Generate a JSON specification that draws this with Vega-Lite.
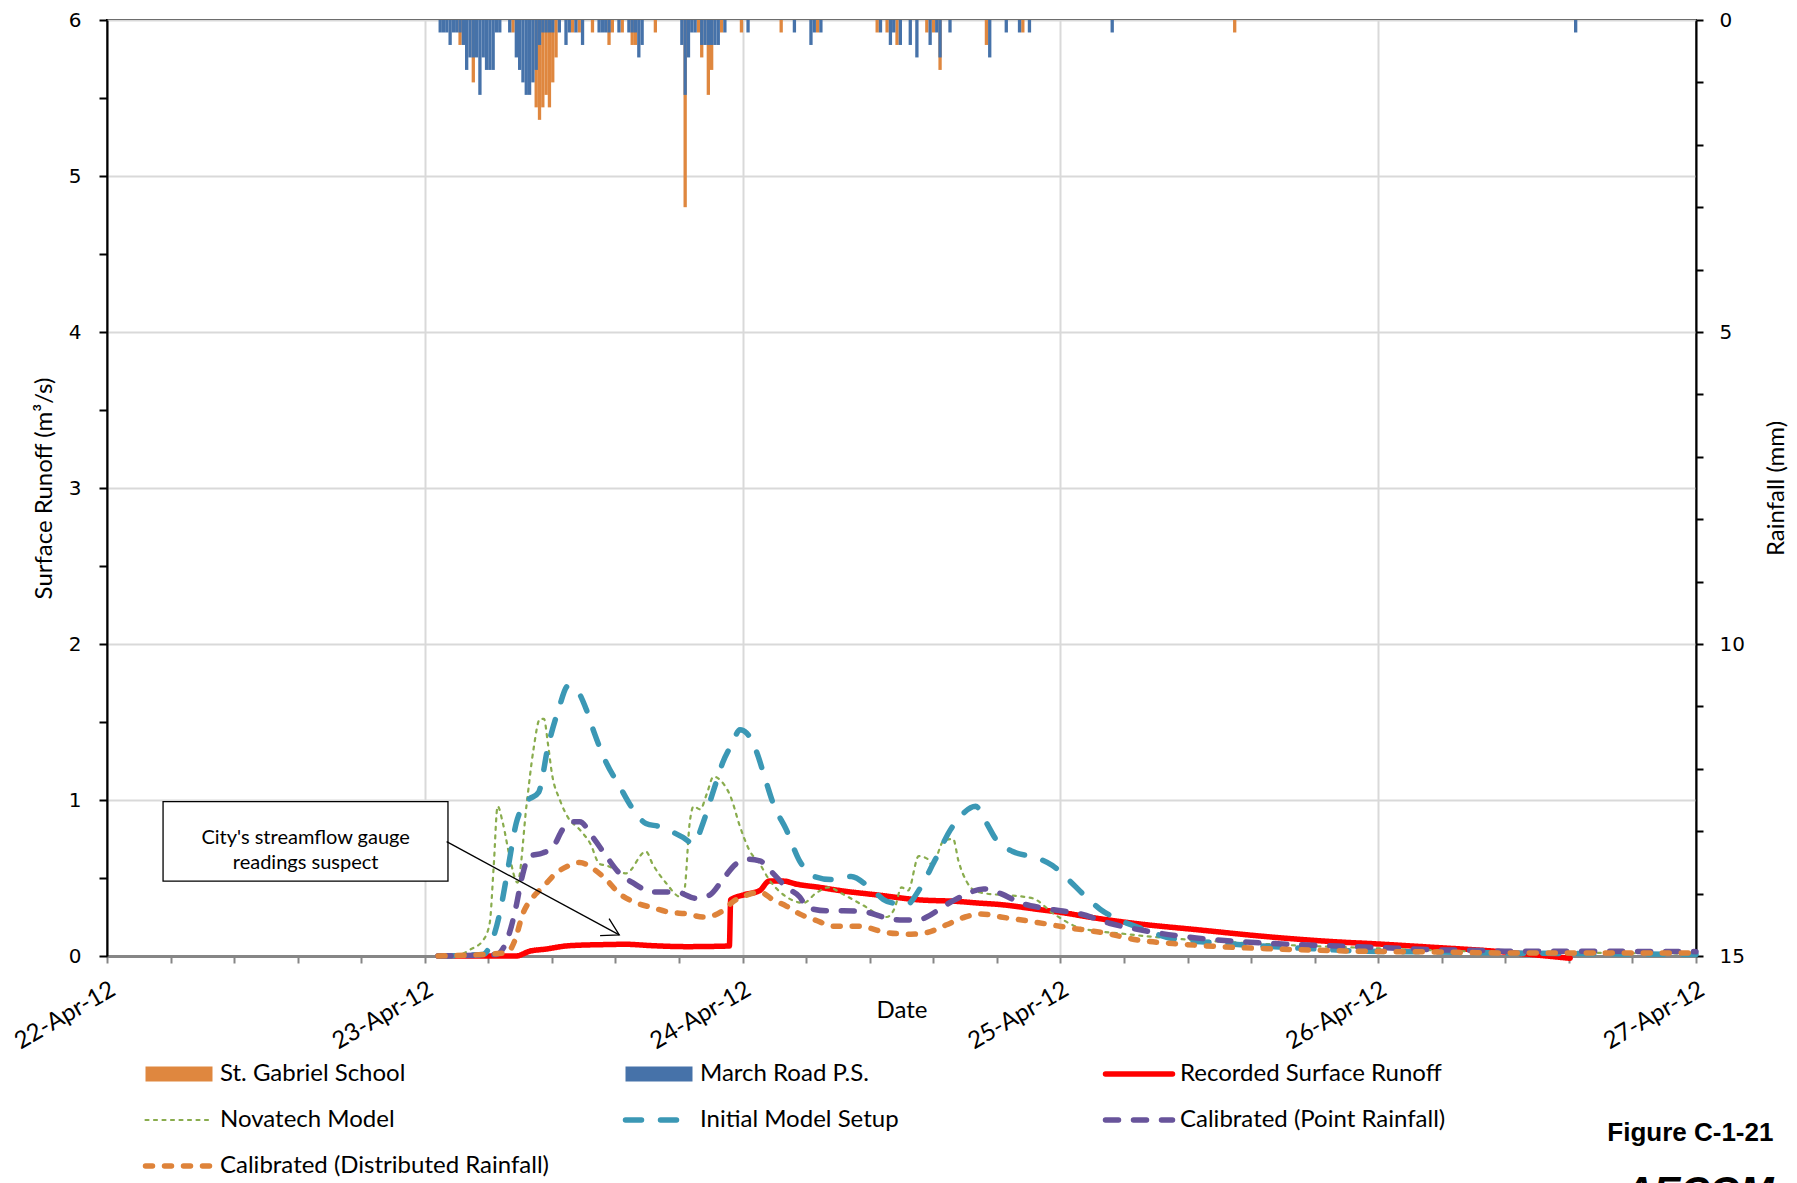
{
  "$schema": "https://vega.github.io/schema/vega-lite/v6.json",
  "width": 1589,
  "height": 936,
  "autosize": {"type": "none"},
  "padding": {"left": 107, "top": 20, "right": 101, "bottom": 227},
  "background": "white",
  "title": {
    "text": "Figure C-1-21",
    "subtitle": "AECOM",
    "orient": "bottom",
    "anchor": "end",
    "frame": "bounds",
    "dy": -63,
    "dx": -15,
    "font": "Liberation Sans",
    "fontSize": 26,
    "fontWeight": "bold",
    "color": "black",
    "subtitleFont": "Liberation Sans",
    "subtitleFontSize": 40,
    "subtitleFontStyle": "italic",
    "subtitleFontWeight": "bold",
    "subtitleColor": "black",
    "subtitlePadding": 27
  },
  "config": {
    "view": {"stroke": "black", "strokeWidth": 2},
    "font": "Lato",
    "legend": {
      "title": null,
      "orient": "none",
      "legendX": 31,
      "legendY": 1041,
      "direction": "horizontal",
      "columns": 3,
      "symbolType": "stroke",
      "symbolSize": 4489,
      "clipHeight": 26,
      "labelFont": "Lato",
      "labelFontSize": 24,
      "labelColor": "black",
      "labelOffset": 0,
      "labelLimit": 600,
      "gridAlign": "all",
      "columnPadding": 69,
      "rowPadding": 20
    }
  },
  "datasets": {
    "rain": [
      {"station": "St. Gabriel School", "t": "2012-04-23T02:30Z", "mm": 0.4},
      {"station": "St. Gabriel School", "t": "2012-04-23T03:30Z", "mm": 1.0},
      {"station": "St. Gabriel School", "t": "2012-04-23T06:30Z", "mm": 0.2},
      {"station": "St. Gabriel School", "t": "2012-04-23T08:15Z", "mm": 1.4},
      {"station": "St. Gabriel School", "t": "2012-04-23T08:30Z", "mm": 1.6},
      {"station": "St. Gabriel School", "t": "2012-04-23T08:45Z", "mm": 1.4},
      {"station": "St. Gabriel School", "t": "2012-04-23T09:00Z", "mm": 1.2},
      {"station": "St. Gabriel School", "t": "2012-04-23T09:15Z", "mm": 1.4},
      {"station": "St. Gabriel School", "t": "2012-04-23T09:30Z", "mm": 1.0},
      {"station": "St. Gabriel School", "t": "2012-04-23T09:45Z", "mm": 0.6},
      {"station": "St. Gabriel School", "t": "2012-04-23T11:00Z", "mm": 0.2},
      {"station": "St. Gabriel School", "t": "2012-04-23T11:30Z", "mm": 0.2},
      {"station": "St. Gabriel School", "t": "2012-04-23T12:30Z", "mm": 0.2},
      {"station": "St. Gabriel School", "t": "2012-04-23T13:45Z", "mm": 0.4},
      {"station": "St. Gabriel School", "t": "2012-04-23T14:00Z", "mm": 0.2},
      {"station": "St. Gabriel School", "t": "2012-04-23T14:45Z", "mm": 0.2},
      {"station": "St. Gabriel School", "t": "2012-04-23T15:30Z", "mm": 0.4},
      {"station": "St. Gabriel School", "t": "2012-04-23T15:45Z", "mm": 0.4},
      {"station": "St. Gabriel School", "t": "2012-04-23T17:15Z", "mm": 0.2},
      {"station": "St. Gabriel School", "t": "2012-04-23T19:30Z", "mm": 3.0},
      {"station": "St. Gabriel School", "t": "2012-04-23T20:30Z", "mm": 0.2},
      {"station": "St. Gabriel School", "t": "2012-04-23T20:45Z", "mm": 0.6},
      {"station": "St. Gabriel School", "t": "2012-04-23T21:15Z", "mm": 1.2},
      {"station": "St. Gabriel School", "t": "2012-04-23T21:30Z", "mm": 0.8},
      {"station": "St. Gabriel School", "t": "2012-04-23T22:15Z", "mm": 0.2},
      {"station": "St. Gabriel School", "t": "2012-04-23T23:45Z", "mm": 0.2},
      {"station": "St. Gabriel School", "t": "2012-04-24T02:45Z", "mm": 0.2},
      {"station": "St. Gabriel School", "t": "2012-04-24T05:30Z", "mm": 0.2},
      {"station": "St. Gabriel School", "t": "2012-04-24T10:00Z", "mm": 0.2},
      {"station": "St. Gabriel School", "t": "2012-04-24T10:45Z", "mm": 0.2},
      {"station": "St. Gabriel School", "t": "2012-04-24T11:30Z", "mm": 0.4},
      {"station": "St. Gabriel School", "t": "2012-04-24T13:45Z", "mm": 0.2},
      {"station": "St. Gabriel School", "t": "2012-04-24T14:15Z", "mm": 0.2},
      {"station": "St. Gabriel School", "t": "2012-04-24T14:45Z", "mm": 0.8},
      {"station": "St. Gabriel School", "t": "2012-04-24T18:15Z", "mm": 0.4},
      {"station": "St. Gabriel School", "t": "2012-04-24T21:00Z", "mm": 0.2},
      {"station": "St. Gabriel School", "t": "2012-04-25T13:00Z", "mm": 0.2},
      {"station": "March Road P.S.", "t": "2012-04-23T01:00Z", "mm": 0.2},
      {"station": "March Road P.S.", "t": "2012-04-23T01:15Z", "mm": 0.2},
      {"station": "March Road P.S.", "t": "2012-04-23T01:30Z", "mm": 0.2},
      {"station": "March Road P.S.", "t": "2012-04-23T01:45Z", "mm": 0.4},
      {"station": "March Road P.S.", "t": "2012-04-23T02:00Z", "mm": 0.2},
      {"station": "March Road P.S.", "t": "2012-04-23T02:15Z", "mm": 0.2},
      {"station": "March Road P.S.", "t": "2012-04-23T02:30Z", "mm": 0.2},
      {"station": "March Road P.S.", "t": "2012-04-23T02:45Z", "mm": 0.4},
      {"station": "March Road P.S.", "t": "2012-04-23T03:00Z", "mm": 0.8},
      {"station": "March Road P.S.", "t": "2012-04-23T03:15Z", "mm": 0.6},
      {"station": "March Road P.S.", "t": "2012-04-23T03:30Z", "mm": 0.6},
      {"station": "March Road P.S.", "t": "2012-04-23T03:45Z", "mm": 0.6},
      {"station": "March Road P.S.", "t": "2012-04-23T04:00Z", "mm": 1.2},
      {"station": "March Road P.S.", "t": "2012-04-23T04:15Z", "mm": 0.6},
      {"station": "March Road P.S.", "t": "2012-04-23T04:30Z", "mm": 0.8},
      {"station": "March Road P.S.", "t": "2012-04-23T04:45Z", "mm": 0.8},
      {"station": "March Road P.S.", "t": "2012-04-23T05:00Z", "mm": 0.8},
      {"station": "March Road P.S.", "t": "2012-04-23T05:15Z", "mm": 0.2},
      {"station": "March Road P.S.", "t": "2012-04-23T05:30Z", "mm": 0.2},
      {"station": "March Road P.S.", "t": "2012-04-23T06:15Z", "mm": 0.2},
      {"station": "March Road P.S.", "t": "2012-04-23T06:45Z", "mm": 0.6},
      {"station": "March Road P.S.", "t": "2012-04-23T07:00Z", "mm": 0.8},
      {"station": "March Road P.S.", "t": "2012-04-23T07:15Z", "mm": 1.0},
      {"station": "March Road P.S.", "t": "2012-04-23T07:30Z", "mm": 1.2},
      {"station": "March Road P.S.", "t": "2012-04-23T07:45Z", "mm": 1.2},
      {"station": "March Road P.S.", "t": "2012-04-23T08:00Z", "mm": 1.0},
      {"station": "March Road P.S.", "t": "2012-04-23T08:15Z", "mm": 0.8},
      {"station": "March Road P.S.", "t": "2012-04-23T08:30Z", "mm": 0.4},
      {"station": "March Road P.S.", "t": "2012-04-23T08:45Z", "mm": 0.2},
      {"station": "March Road P.S.", "t": "2012-04-23T09:00Z", "mm": 0.2},
      {"station": "March Road P.S.", "t": "2012-04-23T09:15Z", "mm": 0.2},
      {"station": "March Road P.S.", "t": "2012-04-23T09:30Z", "mm": 0.2},
      {"station": "March Road P.S.", "t": "2012-04-23T10:00Z", "mm": 0.2},
      {"station": "March Road P.S.", "t": "2012-04-23T10:30Z", "mm": 0.4},
      {"station": "March Road P.S.", "t": "2012-04-23T10:45Z", "mm": 0.2},
      {"station": "March Road P.S.", "t": "2012-04-23T11:15Z", "mm": 0.2},
      {"station": "March Road P.S.", "t": "2012-04-23T11:45Z", "mm": 0.4},
      {"station": "March Road P.S.", "t": "2012-04-23T13:00Z", "mm": 0.2},
      {"station": "March Road P.S.", "t": "2012-04-23T13:15Z", "mm": 0.2},
      {"station": "March Road P.S.", "t": "2012-04-23T13:30Z", "mm": 0.2},
      {"station": "March Road P.S.", "t": "2012-04-23T13:45Z", "mm": 0.2},
      {"station": "March Road P.S.", "t": "2012-04-23T14:30Z", "mm": 0.2},
      {"station": "March Road P.S.", "t": "2012-04-23T15:15Z", "mm": 0.2},
      {"station": "March Road P.S.", "t": "2012-04-23T15:30Z", "mm": 0.2},
      {"station": "March Road P.S.", "t": "2012-04-23T15:45Z", "mm": 0.2},
      {"station": "March Road P.S.", "t": "2012-04-23T16:00Z", "mm": 0.6},
      {"station": "March Road P.S.", "t": "2012-04-23T16:15Z", "mm": 0.4},
      {"station": "March Road P.S.", "t": "2012-04-23T19:15Z", "mm": 0.4},
      {"station": "March Road P.S.", "t": "2012-04-23T19:30Z", "mm": 1.2},
      {"station": "March Road P.S.", "t": "2012-04-23T19:45Z", "mm": 0.6},
      {"station": "March Road P.S.", "t": "2012-04-23T20:00Z", "mm": 0.2},
      {"station": "March Road P.S.", "t": "2012-04-23T20:15Z", "mm": 0.2},
      {"station": "March Road P.S.", "t": "2012-04-23T20:45Z", "mm": 0.4},
      {"station": "March Road P.S.", "t": "2012-04-23T21:00Z", "mm": 0.4},
      {"station": "March Road P.S.", "t": "2012-04-23T21:15Z", "mm": 0.4},
      {"station": "March Road P.S.", "t": "2012-04-23T21:30Z", "mm": 0.4},
      {"station": "March Road P.S.", "t": "2012-04-23T21:45Z", "mm": 0.4},
      {"station": "March Road P.S.", "t": "2012-04-23T22:00Z", "mm": 0.4},
      {"station": "March Road P.S.", "t": "2012-04-23T22:30Z", "mm": 0.2},
      {"station": "March Road P.S.", "t": "2012-04-24T00:15Z", "mm": 0.2},
      {"station": "March Road P.S.", "t": "2012-04-24T03:45Z", "mm": 0.2},
      {"station": "March Road P.S.", "t": "2012-04-24T05:00Z", "mm": 0.4},
      {"station": "March Road P.S.", "t": "2012-04-24T05:15Z", "mm": 0.2},
      {"station": "March Road P.S.", "t": "2012-04-24T05:45Z", "mm": 0.2},
      {"station": "March Road P.S.", "t": "2012-04-24T10:15Z", "mm": 0.2},
      {"station": "March Road P.S.", "t": "2012-04-24T11:00Z", "mm": 0.4},
      {"station": "March Road P.S.", "t": "2012-04-24T11:15Z", "mm": 0.2},
      {"station": "March Road P.S.", "t": "2012-04-24T11:45Z", "mm": 0.4},
      {"station": "March Road P.S.", "t": "2012-04-24T12:30Z", "mm": 0.4},
      {"station": "March Road P.S.", "t": "2012-04-24T13:00Z", "mm": 0.6},
      {"station": "March Road P.S.", "t": "2012-04-24T14:00Z", "mm": 0.4},
      {"station": "March Road P.S.", "t": "2012-04-24T14:30Z", "mm": 0.2},
      {"station": "March Road P.S.", "t": "2012-04-24T14:45Z", "mm": 0.6},
      {"station": "March Road P.S.", "t": "2012-04-24T15:30Z", "mm": 0.2},
      {"station": "March Road P.S.", "t": "2012-04-24T18:30Z", "mm": 0.6},
      {"station": "March Road P.S.", "t": "2012-04-24T19:45Z", "mm": 0.2},
      {"station": "March Road P.S.", "t": "2012-04-24T20:45Z", "mm": 0.2},
      {"station": "March Road P.S.", "t": "2012-04-24T21:30Z", "mm": 0.2},
      {"station": "March Road P.S.", "t": "2012-04-25T03:45Z", "mm": 0.2},
      {"station": "March Road P.S.", "t": "2012-04-26T14:45Z", "mm": 0.2}
    ],
    "flow": [
      {"s": "Recorded Surface Runoff", "t": "2012-04-23T01:00Z", "q": 0},
      {"s": "Recorded Surface Runoff", "t": "2012-04-23T06:54Z", "q": 0},
      {"s": "Recorded Surface Runoff", "t": "2012-04-23T07:54Z", "q": 0.03},
      {"s": "Recorded Surface Runoff", "t": "2012-04-23T09:12Z", "q": 0.045},
      {"s": "Recorded Surface Runoff", "t": "2012-04-23T10:54Z", "q": 0.066},
      {"s": "Recorded Surface Runoff", "t": "2012-04-23T13:30Z", "q": 0.073},
      {"s": "Recorded Surface Runoff", "t": "2012-04-23T15:12Z", "q": 0.075},
      {"s": "Recorded Surface Runoff", "t": "2012-04-23T17:12Z", "q": 0.066},
      {"s": "Recorded Surface Runoff", "t": "2012-04-23T19:48Z", "q": 0.06},
      {"s": "Recorded Surface Runoff", "t": "2012-04-23T23:00Z", "q": 0.064},
      {"s": "Recorded Surface Runoff", "t": "2012-04-23T23:06Z", "q": 0.36},
      {"s": "Recorded Surface Runoff", "t": "2012-04-24T00:00Z", "q": 0.39},
      {"s": "Recorded Surface Runoff", "t": "2012-04-24T01:18Z", "q": 0.42},
      {"s": "Recorded Surface Runoff", "t": "2012-04-24T02:00Z", "q": 0.48},
      {"s": "Recorded Surface Runoff", "t": "2012-04-24T03:06Z", "q": 0.48},
      {"s": "Recorded Surface Runoff", "t": "2012-04-24T04:06Z", "q": 0.46},
      {"s": "Recorded Surface Runoff", "t": "2012-04-24T05:48Z", "q": 0.44},
      {"s": "Recorded Surface Runoff", "t": "2012-04-24T07:18Z", "q": 0.42},
      {"s": "Recorded Surface Runoff", "t": "2012-04-24T10:18Z", "q": 0.39},
      {"s": "Recorded Surface Runoff", "t": "2012-04-24T13:18Z", "q": 0.36},
      {"s": "Recorded Surface Runoff", "t": "2012-04-24T16:12Z", "q": 0.35},
      {"s": "Recorded Surface Runoff", "t": "2012-04-24T17:42Z", "q": 0.34},
      {"s": "Recorded Surface Runoff", "t": "2012-04-24T19:24Z", "q": 0.33},
      {"s": "Recorded Surface Runoff", "t": "2012-04-24T22:12Z", "q": 0.30},
      {"s": "Recorded Surface Runoff", "t": "2012-04-25T00:00Z", "q": 0.28},
      {"s": "Recorded Surface Runoff", "t": "2012-04-25T02:30Z", "q": 0.245},
      {"s": "Recorded Surface Runoff", "t": "2012-04-25T05:30Z", "q": 0.21},
      {"s": "Recorded Surface Runoff", "t": "2012-04-25T10:30Z", "q": 0.167},
      {"s": "Recorded Surface Runoff", "t": "2012-04-25T15:36Z", "q": 0.124},
      {"s": "Recorded Surface Runoff", "t": "2012-04-25T20:36Z", "q": 0.092},
      {"s": "Recorded Surface Runoff", "t": "2012-04-26T00:00Z", "q": 0.077},
      {"s": "Recorded Surface Runoff", "t": "2012-04-26T04:06Z", "q": 0.056},
      {"s": "Recorded Surface Runoff", "t": "2012-04-26T09:12Z", "q": 0.028},
      {"s": "Recorded Surface Runoff", "t": "2012-04-26T12:00Z", "q": 0.006},
      {"s": "Recorded Surface Runoff", "t": "2012-04-26T14:30Z", "q": -0.015},
      {"s": "Novatech Model", "t": "2012-04-23T01:00Z", "q": 0},
      {"s": "Novatech Model", "t": "2012-04-23T02:30Z", "q": 0.005},
      {"s": "Novatech Model", "t": "2012-04-23T03:24Z", "q": 0.04},
      {"s": "Novatech Model", "t": "2012-04-23T04:24Z", "q": 0.10},
      {"s": "Novatech Model", "t": "2012-04-23T04:54Z", "q": 0.21},
      {"s": "Novatech Model", "t": "2012-04-23T05:12Z", "q": 0.57},
      {"s": "Novatech Model", "t": "2012-04-23T05:30Z", "q": 0.96},
      {"s": "Novatech Model", "t": "2012-04-23T05:54Z", "q": 0.85},
      {"s": "Novatech Model", "t": "2012-04-23T06:24Z", "q": 0.64},
      {"s": "Novatech Model", "t": "2012-04-23T07:00Z", "q": 0.47},
      {"s": "Novatech Model", "t": "2012-04-23T07:42Z", "q": 0.98},
      {"s": "Novatech Model", "t": "2012-04-23T08:12Z", "q": 1.32},
      {"s": "Novatech Model", "t": "2012-04-23T08:42Z", "q": 1.52},
      {"s": "Novatech Model", "t": "2012-04-23T09:00Z", "q": 1.52},
      {"s": "Novatech Model", "t": "2012-04-23T09:18Z", "q": 1.36},
      {"s": "Novatech Model", "t": "2012-04-23T09:36Z", "q": 1.17},
      {"s": "Novatech Model", "t": "2012-04-23T10:12Z", "q": 1.0},
      {"s": "Novatech Model", "t": "2012-04-23T10:48Z", "q": 0.89},
      {"s": "Novatech Model", "t": "2012-04-23T11:42Z", "q": 0.81},
      {"s": "Novatech Model", "t": "2012-04-23T12:30Z", "q": 0.72},
      {"s": "Novatech Model", "t": "2012-04-23T13:12Z", "q": 0.59},
      {"s": "Novatech Model", "t": "2012-04-23T13:42Z", "q": 0.58},
      {"s": "Novatech Model", "t": "2012-04-23T15:12Z", "q": 0.53},
      {"s": "Novatech Model", "t": "2012-04-23T16:42Z", "q": 0.67},
      {"s": "Novatech Model", "t": "2012-04-23T17:12Z", "q": 0.59},
      {"s": "Novatech Model", "t": "2012-04-23T18:12Z", "q": 0.47},
      {"s": "Novatech Model", "t": "2012-04-23T19:18Z", "q": 0.38},
      {"s": "Novatech Model", "t": "2012-04-23T19:36Z", "q": 0.42},
      {"s": "Novatech Model", "t": "2012-04-23T20:00Z", "q": 0.85},
      {"s": "Novatech Model", "t": "2012-04-23T20:18Z", "q": 0.96},
      {"s": "Novatech Model", "t": "2012-04-23T20:48Z", "q": 0.94},
      {"s": "Novatech Model", "t": "2012-04-23T21:18Z", "q": 1.04},
      {"s": "Novatech Model", "t": "2012-04-23T21:48Z", "q": 1.15},
      {"s": "Novatech Model", "t": "2012-04-23T22:24Z", "q": 1.12},
      {"s": "Novatech Model", "t": "2012-04-23T23:06Z", "q": 1.02},
      {"s": "Novatech Model", "t": "2012-04-23T23:48Z", "q": 0.83},
      {"s": "Novatech Model", "t": "2012-04-24T00:30Z", "q": 0.68},
      {"s": "Novatech Model", "t": "2012-04-24T01:18Z", "q": 0.59},
      {"s": "Novatech Model", "t": "2012-04-24T02:00Z", "q": 0.49},
      {"s": "Novatech Model", "t": "2012-04-24T03:18Z", "q": 0.38},
      {"s": "Novatech Model", "t": "2012-04-24T04:36Z", "q": 0.34},
      {"s": "Novatech Model", "t": "2012-04-24T05:30Z", "q": 0.40},
      {"s": "Novatech Model", "t": "2012-04-24T06:30Z", "q": 0.44},
      {"s": "Novatech Model", "t": "2012-04-24T07:30Z", "q": 0.40},
      {"s": "Novatech Model", "t": "2012-04-24T09:00Z", "q": 0.33},
      {"s": "Novatech Model", "t": "2012-04-24T10:54Z", "q": 0.25},
      {"s": "Novatech Model", "t": "2012-04-24T11:30Z", "q": 0.31},
      {"s": "Novatech Model", "t": "2012-04-24T12:00Z", "q": 0.44},
      {"s": "Novatech Model", "t": "2012-04-24T12:30Z", "q": 0.42},
      {"s": "Novatech Model", "t": "2012-04-24T13:18Z", "q": 0.64},
      {"s": "Novatech Model", "t": "2012-04-24T14:00Z", "q": 0.62},
      {"s": "Novatech Model", "t": "2012-04-24T14:18Z", "q": 0.58},
      {"s": "Novatech Model", "t": "2012-04-24T15:12Z", "q": 0.74},
      {"s": "Novatech Model", "t": "2012-04-24T15:54Z", "q": 0.75},
      {"s": "Novatech Model", "t": "2012-04-24T16:18Z", "q": 0.61},
      {"s": "Novatech Model", "t": "2012-04-24T16:54Z", "q": 0.48},
      {"s": "Novatech Model", "t": "2012-04-24T17:30Z", "q": 0.42},
      {"s": "Novatech Model", "t": "2012-04-24T18:24Z", "q": 0.40},
      {"s": "Novatech Model", "t": "2012-04-24T19:54Z", "q": 0.39},
      {"s": "Novatech Model", "t": "2012-04-24T21:54Z", "q": 0.37},
      {"s": "Novatech Model", "t": "2012-04-24T23:30Z", "q": 0.27},
      {"s": "Novatech Model", "t": "2012-04-25T01:30Z", "q": 0.18},
      {"s": "Novatech Model", "t": "2012-04-25T05:00Z", "q": 0.14},
      {"s": "Novatech Model", "t": "2012-04-25T08:48Z", "q": 0.11},
      {"s": "Novatech Model", "t": "2012-04-25T12:36Z", "q": 0.09},
      {"s": "Novatech Model", "t": "2012-04-25T17:42Z", "q": 0.068},
      {"s": "Novatech Model", "t": "2012-04-25T22:42Z", "q": 0.053},
      {"s": "Novatech Model", "t": "2012-04-26T03:42Z", "q": 0.038},
      {"s": "Novatech Model", "t": "2012-04-26T08:42Z", "q": 0.026},
      {"s": "Novatech Model", "t": "2012-04-26T16:00Z", "q": 0.02},
      {"s": "Novatech Model", "t": "2012-04-27T00:00Z", "q": 0.015},
      {"s": "Initial Model Setup", "t": "2012-04-23T01:00Z", "q": 0},
      {"s": "Initial Model Setup", "t": "2012-04-23T04:24Z", "q": 0.01},
      {"s": "Initial Model Setup", "t": "2012-04-23T05:00Z", "q": 0.08},
      {"s": "Initial Model Setup", "t": "2012-04-23T05:42Z", "q": 0.29},
      {"s": "Initial Model Setup", "t": "2012-04-23T06:18Z", "q": 0.57},
      {"s": "Initial Model Setup", "t": "2012-04-23T06:54Z", "q": 0.85},
      {"s": "Initial Model Setup", "t": "2012-04-23T07:42Z", "q": 0.99},
      {"s": "Initial Model Setup", "t": "2012-04-23T08:36Z", "q": 1.05},
      {"s": "Initial Model Setup", "t": "2012-04-23T09:18Z", "q": 1.34},
      {"s": "Initial Model Setup", "t": "2012-04-23T10:06Z", "q": 1.58},
      {"s": "Initial Model Setup", "t": "2012-04-23T10:48Z", "q": 1.73},
      {"s": "Initial Model Setup", "t": "2012-04-23T11:18Z", "q": 1.72},
      {"s": "Initial Model Setup", "t": "2012-04-23T12:12Z", "q": 1.58},
      {"s": "Initial Model Setup", "t": "2012-04-23T12:48Z", "q": 1.43},
      {"s": "Initial Model Setup", "t": "2012-04-23T13:42Z", "q": 1.24},
      {"s": "Initial Model Setup", "t": "2012-04-23T14:42Z", "q": 1.09},
      {"s": "Initial Model Setup", "t": "2012-04-23T15:30Z", "q": 0.97},
      {"s": "Initial Model Setup", "t": "2012-04-23T16:42Z", "q": 0.85},
      {"s": "Initial Model Setup", "t": "2012-04-23T17:42Z", "q": 0.83},
      {"s": "Initial Model Setup", "t": "2012-04-23T19:30Z", "q": 0.76},
      {"s": "Initial Model Setup", "t": "2012-04-23T20:18Z", "q": 0.72},
      {"s": "Initial Model Setup", "t": "2012-04-23T21:00Z", "q": 0.85},
      {"s": "Initial Model Setup", "t": "2012-04-23T21:48Z", "q": 1.06},
      {"s": "Initial Model Setup", "t": "2012-04-23T22:30Z", "q": 1.24},
      {"s": "Initial Model Setup", "t": "2012-04-23T23:12Z", "q": 1.36},
      {"s": "Initial Model Setup", "t": "2012-04-23T23:48Z", "q": 1.45},
      {"s": "Initial Model Setup", "t": "2012-04-24T00:18Z", "q": 1.43},
      {"s": "Initial Model Setup", "t": "2012-04-24T01:00Z", "q": 1.32},
      {"s": "Initial Model Setup", "t": "2012-04-24T01:48Z", "q": 1.11},
      {"s": "Initial Model Setup", "t": "2012-04-24T02:18Z", "q": 0.98},
      {"s": "Initial Model Setup", "t": "2012-04-24T03:18Z", "q": 0.81},
      {"s": "Initial Model Setup", "t": "2012-04-24T04:18Z", "q": 0.61},
      {"s": "Initial Model Setup", "t": "2012-04-24T05:24Z", "q": 0.51},
      {"s": "Initial Model Setup", "t": "2012-04-24T06:42Z", "q": 0.49},
      {"s": "Initial Model Setup", "t": "2012-04-24T08:12Z", "q": 0.51},
      {"s": "Initial Model Setup", "t": "2012-04-24T09:42Z", "q": 0.43},
      {"s": "Initial Model Setup", "t": "2012-04-24T10:54Z", "q": 0.35},
      {"s": "Initial Model Setup", "t": "2012-04-24T12:24Z", "q": 0.33},
      {"s": "Initial Model Setup", "t": "2012-04-24T13:18Z", "q": 0.42},
      {"s": "Initial Model Setup", "t": "2012-04-24T14:30Z", "q": 0.61},
      {"s": "Initial Model Setup", "t": "2012-04-24T15:42Z", "q": 0.81},
      {"s": "Initial Model Setup", "t": "2012-04-24T16:30Z", "q": 0.90},
      {"s": "Initial Model Setup", "t": "2012-04-24T17:36Z", "q": 0.96},
      {"s": "Initial Model Setup", "t": "2012-04-24T18:18Z", "q": 0.87},
      {"s": "Initial Model Setup", "t": "2012-04-24T19:12Z", "q": 0.74},
      {"s": "Initial Model Setup", "t": "2012-04-24T20:24Z", "q": 0.67},
      {"s": "Initial Model Setup", "t": "2012-04-24T22:12Z", "q": 0.63},
      {"s": "Initial Model Setup", "t": "2012-04-24T23:24Z", "q": 0.58},
      {"s": "Initial Model Setup", "t": "2012-04-25T00:36Z", "q": 0.49},
      {"s": "Initial Model Setup", "t": "2012-04-25T01:48Z", "q": 0.39},
      {"s": "Initial Model Setup", "t": "2012-04-25T03:00Z", "q": 0.30},
      {"s": "Initial Model Setup", "t": "2012-04-25T04:12Z", "q": 0.24},
      {"s": "Initial Model Setup", "t": "2012-04-25T06:00Z", "q": 0.18},
      {"s": "Initial Model Setup", "t": "2012-04-25T08:30Z", "q": 0.11},
      {"s": "Initial Model Setup", "t": "2012-04-25T11:48Z", "q": 0.084},
      {"s": "Initial Model Setup", "t": "2012-04-25T15:36Z", "q": 0.062},
      {"s": "Initial Model Setup", "t": "2012-04-25T19:24Z", "q": 0.045},
      {"s": "Initial Model Setup", "t": "2012-04-25T23:06Z", "q": 0.03},
      {"s": "Initial Model Setup", "t": "2012-04-26T04:06Z", "q": 0.026},
      {"s": "Initial Model Setup", "t": "2012-04-26T09:12Z", "q": 0.02},
      {"s": "Initial Model Setup", "t": "2012-04-26T16:00Z", "q": 0.015},
      {"s": "Initial Model Setup", "t": "2012-04-27T00:00Z", "q": 0.01},
      {"s": "Calibrated (Point Rainfall)", "t": "2012-04-23T01:00Z", "q": 0},
      {"s": "Calibrated (Point Rainfall)", "t": "2012-04-23T05:24Z", "q": 0.01},
      {"s": "Calibrated (Point Rainfall)", "t": "2012-04-23T06:24Z", "q": 0.15},
      {"s": "Calibrated (Point Rainfall)", "t": "2012-04-23T06:54Z", "q": 0.32},
      {"s": "Calibrated (Point Rainfall)", "t": "2012-04-23T07:18Z", "q": 0.49},
      {"s": "Calibrated (Point Rainfall)", "t": "2012-04-23T07:54Z", "q": 0.64},
      {"s": "Calibrated (Point Rainfall)", "t": "2012-04-23T08:54Z", "q": 0.66},
      {"s": "Calibrated (Point Rainfall)", "t": "2012-04-23T09:42Z", "q": 0.70},
      {"s": "Calibrated (Point Rainfall)", "t": "2012-04-23T10:24Z", "q": 0.81},
      {"s": "Calibrated (Point Rainfall)", "t": "2012-04-23T11:12Z", "q": 0.86},
      {"s": "Calibrated (Point Rainfall)", "t": "2012-04-23T11:42Z", "q": 0.86},
      {"s": "Calibrated (Point Rainfall)", "t": "2012-04-23T12:42Z", "q": 0.76},
      {"s": "Calibrated (Point Rainfall)", "t": "2012-04-23T13:42Z", "q": 0.64},
      {"s": "Calibrated (Point Rainfall)", "t": "2012-04-23T14:42Z", "q": 0.53},
      {"s": "Calibrated (Point Rainfall)", "t": "2012-04-23T15:42Z", "q": 0.47},
      {"s": "Calibrated (Point Rainfall)", "t": "2012-04-23T17:12Z", "q": 0.41},
      {"s": "Calibrated (Point Rainfall)", "t": "2012-04-23T19:00Z", "q": 0.41},
      {"s": "Calibrated (Point Rainfall)", "t": "2012-04-23T20:30Z", "q": 0.37},
      {"s": "Calibrated (Point Rainfall)", "t": "2012-04-23T21:30Z", "q": 0.39},
      {"s": "Calibrated (Point Rainfall)", "t": "2012-04-23T22:30Z", "q": 0.49},
      {"s": "Calibrated (Point Rainfall)", "t": "2012-04-23T23:30Z", "q": 0.59},
      {"s": "Calibrated (Point Rainfall)", "t": "2012-04-24T00:30Z", "q": 0.62},
      {"s": "Calibrated (Point Rainfall)", "t": "2012-04-24T01:18Z", "q": 0.61},
      {"s": "Calibrated (Point Rainfall)", "t": "2012-04-24T02:18Z", "q": 0.53},
      {"s": "Calibrated (Point Rainfall)", "t": "2012-04-24T03:18Z", "q": 0.44},
      {"s": "Calibrated (Point Rainfall)", "t": "2012-04-24T04:18Z", "q": 0.38},
      {"s": "Calibrated (Point Rainfall)", "t": "2012-04-24T04:54Z", "q": 0.31},
      {"s": "Calibrated (Point Rainfall)", "t": "2012-04-24T06:24Z", "q": 0.29},
      {"s": "Calibrated (Point Rainfall)", "t": "2012-04-24T07:36Z", "q": 0.29},
      {"s": "Calibrated (Point Rainfall)", "t": "2012-04-24T09:24Z", "q": 0.28},
      {"s": "Calibrated (Point Rainfall)", "t": "2012-04-24T10:36Z", "q": 0.25},
      {"s": "Calibrated (Point Rainfall)", "t": "2012-04-24T12:06Z", "q": 0.23},
      {"s": "Calibrated (Point Rainfall)", "t": "2012-04-24T13:18Z", "q": 0.23},
      {"s": "Calibrated (Point Rainfall)", "t": "2012-04-24T13:54Z", "q": 0.25},
      {"s": "Calibrated (Point Rainfall)", "t": "2012-04-24T15:24Z", "q": 0.33},
      {"s": "Calibrated (Point Rainfall)", "t": "2012-04-24T16:30Z", "q": 0.38},
      {"s": "Calibrated (Point Rainfall)", "t": "2012-04-24T18:12Z", "q": 0.43},
      {"s": "Calibrated (Point Rainfall)", "t": "2012-04-24T19:30Z", "q": 0.40},
      {"s": "Calibrated (Point Rainfall)", "t": "2012-04-24T21:00Z", "q": 0.34},
      {"s": "Calibrated (Point Rainfall)", "t": "2012-04-24T22:30Z", "q": 0.31},
      {"s": "Calibrated (Point Rainfall)", "t": "2012-04-25T00:00Z", "q": 0.29},
      {"s": "Calibrated (Point Rainfall)", "t": "2012-04-25T01:30Z", "q": 0.27},
      {"s": "Calibrated (Point Rainfall)", "t": "2012-04-25T03:42Z", "q": 0.21},
      {"s": "Calibrated (Point Rainfall)", "t": "2012-04-25T06:30Z", "q": 0.16},
      {"s": "Calibrated (Point Rainfall)", "t": "2012-04-25T09:48Z", "q": 0.12},
      {"s": "Calibrated (Point Rainfall)", "t": "2012-04-25T13:00Z", "q": 0.096},
      {"s": "Calibrated (Point Rainfall)", "t": "2012-04-25T16:06Z", "q": 0.08},
      {"s": "Calibrated (Point Rainfall)", "t": "2012-04-25T19:24Z", "q": 0.068},
      {"s": "Calibrated (Point Rainfall)", "t": "2012-04-25T22:06Z", "q": 0.06},
      {"s": "Calibrated (Point Rainfall)", "t": "2012-04-26T01:24Z", "q": 0.05},
      {"s": "Calibrated (Point Rainfall)", "t": "2012-04-26T04:24Z", "q": 0.04},
      {"s": "Calibrated (Point Rainfall)", "t": "2012-04-26T07:42Z", "q": 0.036},
      {"s": "Calibrated (Point Rainfall)", "t": "2012-04-26T10:12Z", "q": 0.03},
      {"s": "Calibrated (Point Rainfall)", "t": "2012-04-26T16:00Z", "q": 0.03},
      {"s": "Calibrated (Point Rainfall)", "t": "2012-04-27T00:00Z", "q": 0.028},
      {"s": "Calibrated (Distributed Rainfall)", "t": "2012-04-23T01:00Z", "q": 0},
      {"s": "Calibrated (Distributed Rainfall)", "t": "2012-04-23T06:12Z", "q": 0.02},
      {"s": "Calibrated (Distributed Rainfall)", "t": "2012-04-23T06:48Z", "q": 0.10},
      {"s": "Calibrated (Distributed Rainfall)", "t": "2012-04-23T07:24Z", "q": 0.27},
      {"s": "Calibrated (Distributed Rainfall)", "t": "2012-04-23T08:12Z", "q": 0.38},
      {"s": "Calibrated (Distributed Rainfall)", "t": "2012-04-23T08:54Z", "q": 0.44},
      {"s": "Calibrated (Distributed Rainfall)", "t": "2012-04-23T09:54Z", "q": 0.53},
      {"s": "Calibrated (Distributed Rainfall)", "t": "2012-04-23T10:54Z", "q": 0.58},
      {"s": "Calibrated (Distributed Rainfall)", "t": "2012-04-23T11:42Z", "q": 0.60},
      {"s": "Calibrated (Distributed Rainfall)", "t": "2012-04-23T12:42Z", "q": 0.56},
      {"s": "Calibrated (Distributed Rainfall)", "t": "2012-04-23T13:42Z", "q": 0.49},
      {"s": "Calibrated (Distributed Rainfall)", "t": "2012-04-23T14:42Z", "q": 0.40},
      {"s": "Calibrated (Distributed Rainfall)", "t": "2012-04-23T16:00Z", "q": 0.34},
      {"s": "Calibrated (Distributed Rainfall)", "t": "2012-04-23T17:12Z", "q": 0.31},
      {"s": "Calibrated (Distributed Rainfall)", "t": "2012-04-23T18:30Z", "q": 0.28},
      {"s": "Calibrated (Distributed Rainfall)", "t": "2012-04-23T19:48Z", "q": 0.27},
      {"s": "Calibrated (Distributed Rainfall)", "t": "2012-04-23T21:00Z", "q": 0.25},
      {"s": "Calibrated (Distributed Rainfall)", "t": "2012-04-23T21:48Z", "q": 0.26},
      {"s": "Calibrated (Distributed Rainfall)", "t": "2012-04-23T22:30Z", "q": 0.29},
      {"s": "Calibrated (Distributed Rainfall)", "t": "2012-04-23T23:18Z", "q": 0.35},
      {"s": "Calibrated (Distributed Rainfall)", "t": "2012-04-24T00:18Z", "q": 0.39},
      {"s": "Calibrated (Distributed Rainfall)", "t": "2012-04-24T01:18Z", "q": 0.41},
      {"s": "Calibrated (Distributed Rainfall)", "t": "2012-04-24T02:18Z", "q": 0.36},
      {"s": "Calibrated (Distributed Rainfall)", "t": "2012-04-24T03:18Z", "q": 0.32},
      {"s": "Calibrated (Distributed Rainfall)", "t": "2012-04-24T04:18Z", "q": 0.27},
      {"s": "Calibrated (Distributed Rainfall)", "t": "2012-04-24T05:30Z", "q": 0.23},
      {"s": "Calibrated (Distributed Rainfall)", "t": "2012-04-24T07:00Z", "q": 0.19},
      {"s": "Calibrated (Distributed Rainfall)", "t": "2012-04-24T08:48Z", "q": 0.19},
      {"s": "Calibrated (Distributed Rainfall)", "t": "2012-04-24T10:54Z", "q": 0.15},
      {"s": "Calibrated (Distributed Rainfall)", "t": "2012-04-24T12:42Z", "q": 0.14},
      {"s": "Calibrated (Distributed Rainfall)", "t": "2012-04-24T13:54Z", "q": 0.15},
      {"s": "Calibrated (Distributed Rainfall)", "t": "2012-04-24T15:24Z", "q": 0.20},
      {"s": "Calibrated (Distributed Rainfall)", "t": "2012-04-24T16:48Z", "q": 0.25},
      {"s": "Calibrated (Distributed Rainfall)", "t": "2012-04-24T18:00Z", "q": 0.27},
      {"s": "Calibrated (Distributed Rainfall)", "t": "2012-04-24T19:30Z", "q": 0.25},
      {"s": "Calibrated (Distributed Rainfall)", "t": "2012-04-24T21:54Z", "q": 0.22},
      {"s": "Calibrated (Distributed Rainfall)", "t": "2012-04-25T00:42Z", "q": 0.18},
      {"s": "Calibrated (Distributed Rainfall)", "t": "2012-04-25T03:12Z", "q": 0.15},
      {"s": "Calibrated (Distributed Rainfall)", "t": "2012-04-25T06:00Z", "q": 0.10},
      {"s": "Calibrated (Distributed Rainfall)", "t": "2012-04-25T08:30Z", "q": 0.08},
      {"s": "Calibrated (Distributed Rainfall)", "t": "2012-04-25T12:00Z", "q": 0.06},
      {"s": "Calibrated (Distributed Rainfall)", "t": "2012-04-25T15:36Z", "q": 0.047},
      {"s": "Calibrated (Distributed Rainfall)", "t": "2012-04-25T19:06Z", "q": 0.038},
      {"s": "Calibrated (Distributed Rainfall)", "t": "2012-04-25T23:06Z", "q": 0.03},
      {"s": "Calibrated (Distributed Rainfall)", "t": "2012-04-26T04:06Z", "q": 0.026},
      {"s": "Calibrated (Distributed Rainfall)", "t": "2012-04-26T09:12Z", "q": 0.02},
      {"s": "Calibrated (Distributed Rainfall)", "t": "2012-04-26T16:00Z", "q": 0.02},
      {"s": "Calibrated (Distributed Rainfall)", "t": "2012-04-27T00:00Z", "q": 0.02}
    ]
  },
  "layer": [
    {
      "data": {"name": "rain"},
      "mark": {"type": "bar", "binSpacing": 0},
      "encoding": {
        "x": {
          "field": "t", "type": "temporal", "title": "Date",
          "timeUnit": {"unit": "utcyearmonthdatehoursminutes", "step": 15},
          "scale": {"type": "utc", "domain": [1335052800000, 1335484800000]}
        },
        "y": {
          "field": "mm", "type": "quantitative", "stack": null,
          "scale": {"domain": [0, 15], "reverse": true, "nice": false},
          "axis": {
            "orient": "right",
            "title": "Rainfall (mm)",
            "titleAngle": 270,
            "titleFont": "Lato", "titleFontSize": 24, "titleFontWeight": "normal", "titleColor": "black",
            "titlePadding": 44,
            "values": [0,1,2,3,4,5,6,7,8,9,10,11,12,13,14,15],
            "labelExpr": "datum.value % 5 === 0 ? datum.label : ''",
            "labelFont": "DejaVu Sans", "labelFontSize": 20, "labelColor": "black", "labelPadding": 16,
            "grid": false,
            "domainColor": "black", "domainWidth": 2,
            "tickColor": "black", "tickWidth": 2, "tickSize": 7
          }
        },
        "color": {
          "field": "station", "type": "nominal",
          "scale": {
            "domain": ["St. Gabriel School", "March Road P.S.", "Recorded Surface Runoff", "Novatech Model", "Initial Model Setup", "Calibrated (Point Rainfall)", "Calibrated (Distributed Rainfall)"],
            "range": ["#DF873F", "#4672A9", "#FF0000", "#89AC4D", "#3B98B5", "#68549B", "#DE833A"]
          },
          "legend": {"title": null, "encode": {"symbols": {"update": {
            "stroke": {"scale": "color", "field": "value"},
            "strokeCap": [{"test": "datum.value === 'St. Gabriel School' || datum.value === 'March Road P.S.'", "value": "butt"}, {"value": "round"}]
          }}}}
        }
      }
    },
    {
      "data": {"name": "flow"},
      "mark": {"type": "line", "interpolate": "monotone", "strokeCap": "round", "strokeJoin": "round"},
      "encoding": {
        "x": {
          "field": "t", "type": "temporal", "title": "Date",
          "scale": {"type": "utc", "domain": [1335052800000, 1335484800000]},
          "axis": {
            "orient": "bottom",
            "title": "Date",
            "titleFont": "Lato", "titleFontSize": 24, "titleFontWeight": "normal", "titleColor": "black",
            "titleY": 42,
            "values": [1335052800000, 1335070080000, 1335087360000, 1335104640000, 1335121920000, 1335139200000, 1335156480000, 1335173760000, 1335191040000, 1335208320000, 1335225600000, 1335242880000, 1335260160000, 1335277440000, 1335294720000, 1335312000000, 1335329280000, 1335346560000, 1335363840000, 1335381120000, 1335398400000, 1335415680000, 1335432960000, 1335450240000, 1335467520000, 1335484800000],
            "format": "%-d-%b-%y",
            "labelExpr": "(utchours(datum.value) === 0 && utcminutes(datum.value) === 0) ? datum.label : ''",
            "labelAngle": -30,
            "labelAlign": "right",
            "labelBaseline": "top",
            "labelPadding": 14,
            "labelFont": "Lato", "labelFontSize": 24, "labelColor": "black",
            "labelOverlap": false, "labelFlush": false, "labelBound": false,
            "grid": true,
            "gridColor": {"condition": {"test": "utchours(datum.value) === 0 && utcminutes(datum.value) === 0", "value": "#d9d9d9"}, "value": "rgba(0,0,0,0)"},
            "gridWidth": 2,
            "domainColor": "#868686", "domainWidth": 3,
            "tickColor": "#868686", "tickWidth": 2, "tickSize": 7
          }
        },
        "y": {
          "field": "q", "type": "quantitative",
          "scale": {"domain": [0, 6], "nice": false},
          "axis": {
            "orient": "left",
            "title": "Surface Runoff (m³/s)",
            "titleFont": "Lato", "titleFontSize": 24, "titleFontWeight": "normal", "titleColor": "black",
            "titlePadding": 12,
            "values": [0, 0.5, 1, 1.5, 2, 2.5, 3, 3.5, 4, 4.5, 5, 5.5, 6],
            "labelExpr": "datum.value % 1 === 0 ? format(datum.value, 'd') : ''",
            "labelFont": "DejaVu Sans", "labelFontSize": 20, "labelColor": "black", "labelPadding": 18,
            "grid": true,
            "gridColor": {"condition": {"test": "datum.value % 1 === 0", "value": "#d9d9d9"}, "value": "rgba(0,0,0,0)"},
            "gridWidth": 2,
            "domainColor": "black", "domainWidth": 2,
            "tickColor": "black", "tickWidth": 2, "tickSize": 8
          }
        },
        "color": {
          "field": "s", "type": "nominal",
          "scale": {
            "domain": ["St. Gabriel School", "March Road P.S.", "Recorded Surface Runoff", "Novatech Model", "Initial Model Setup", "Calibrated (Point Rainfall)", "Calibrated (Distributed Rainfall)"],
            "range": ["#DF873F", "#4672A9", "#FF0000", "#89AC4D", "#3B98B5", "#68549B", "#DE833A"]
          },
          "legend": {"title": null, "encode": {"symbols": {"update": {
            "stroke": {"scale": "color", "field": "value"},
            "strokeCap": [{"test": "datum.value === 'St. Gabriel School' || datum.value === 'March Road P.S.'", "value": "butt"}, {"value": "round"}]
          }}}}
        },
        "strokeDash": {
          "field": "s", "type": "nominal",
          "scale": {
            "domain": ["St. Gabriel School", "March Road P.S.", "Recorded Surface Runoff", "Novatech Model", "Initial Model Setup", "Calibrated (Point Rainfall)", "Calibrated (Distributed Rainfall)"],
            "range": [[1, 0], [1, 0], [1, 0], [3, 5.5], [16, 19], [13, 15], [7, 12]]
          },
          "legend": {"title": null}
        },
        "strokeWidth": {
          "field": "s", "type": "nominal",
          "scale": {
            "type": "ordinal",
            "domain": ["St. Gabriel School", "March Road P.S.", "Recorded Surface Runoff", "Novatech Model", "Initial Model Setup", "Calibrated (Point Rainfall)", "Calibrated (Distributed Rainfall)"],
            "range": [15, 15, 5.5, 2.2, 5.5, 5.5, 5.5]
          },
          "legend": {"title": null}
        }
      }
    },
    {
      "data": {"values": [{"t1": "2012-04-22T04:14Z", "t2": "2012-04-23T01:45Z", "q1": 0.48, "q2": 0.99}]},
      "mark": {"type": "rect", "fill": "white", "stroke": "black", "strokeWidth": 1.3},
      "encoding": {
        "x": {"field": "t1", "type": "temporal", "title": "Date", "scale": {"type": "utc", "domain": [1335052800000, 1335484800000]}},
        "x2": {"field": "t2"},
        "y": {"field": "q1", "type": "quantitative", "scale": {"domain": [0, 6], "nice": false}, "axis": null},
        "y2": {"field": "q2"}
      }
    },
    {
      "data": {"values": [{"t": "2012-04-22T15:00Z", "q": 0.755, "label": ["City's streamflow gauge", "readings suspect"]}]},
      "mark": {"type": "text", "font": "Lato", "fontSize": 20, "lineHeight": 25, "align": "center", "baseline": "middle", "color": "black"},
      "encoding": {
        "x": {"field": "t", "type": "temporal", "title": "Date", "scale": {"type": "utc", "domain": [1335052800000, 1335484800000]}},
        "y": {"field": "q", "type": "quantitative", "scale": {"domain": [0, 6], "nice": false}, "axis": null},
        "text": {"field": "label"}
      }
    },
    {
      "data": {"values": [{"t": "2012-04-23T01:39Z", "q": 0.733}, {"t": "2012-04-23T14:41Z", "q": 0.135}]},
      "mark": {"type": "line", "color": "black", "strokeWidth": 1.3},
      "encoding": {
        "x": {"field": "t", "type": "temporal", "title": "Date", "scale": {"type": "utc", "domain": [1335052800000, 1335484800000]}},
        "y": {"field": "q", "type": "quantitative", "scale": {"domain": [0, 6], "nice": false}, "axis": null}
      }
    },
    {
      "data": {"values": [{"t": "2012-04-23T14:41Z", "q": 0.135}]},
      "mark": {"type": "point", "shape": "M-1,-0.577L0,0L-1,0.577", "filled": false, "stroke": "black", "strokeWidth": 1.3, "size": 1100, "angle": 28, "opacity": 1},
      "encoding": {
        "x": {"field": "t", "type": "temporal", "title": "Date", "scale": {"type": "utc", "domain": [1335052800000, 1335484800000]}},
        "y": {"field": "q", "type": "quantitative", "scale": {"domain": [0, 6], "nice": false}, "axis": null}
      }
    }
  ],
  "resolve": {"scale": {"y": "independent"}}
}
